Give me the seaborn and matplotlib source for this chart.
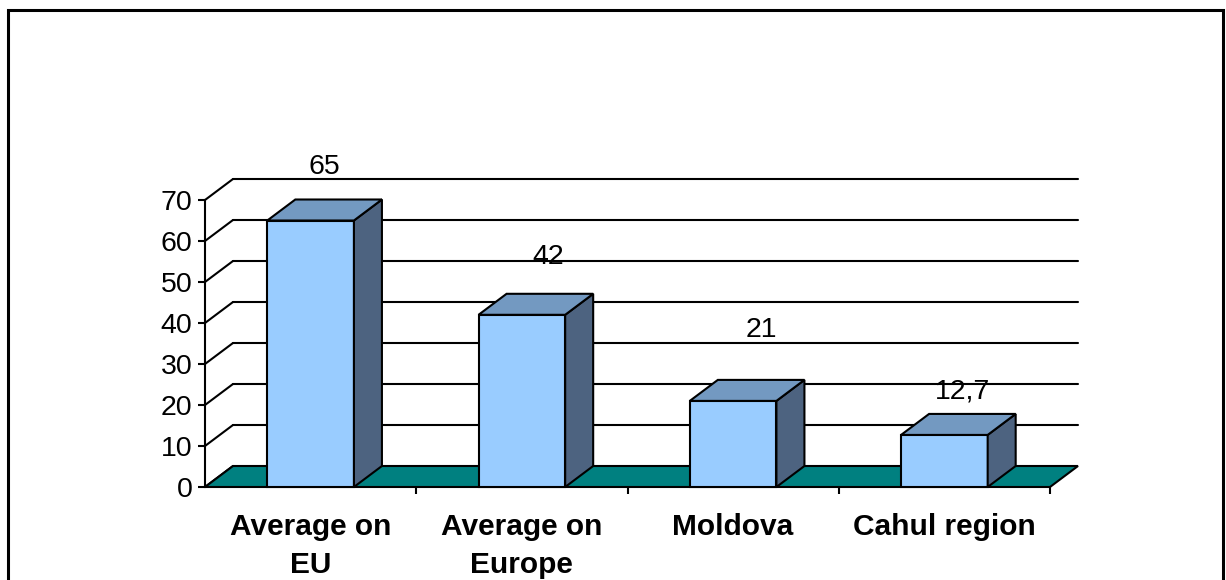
import matplotlib
matplotlib.use("Agg")
import matplotlib.pyplot as plt
from matplotlib.patches import Polygon, Rectangle
from matplotlib.lines import Line2D
import seaborn as sns
import pandas as pd

# ---- data ----
categories = ["Average on\nEU", "Average on\nEurope", "Moldova", "Cahul region"]
values = [65, 42, 21, 12.7]
value_labels = ["65", "42", "21", "12,7"]
y_ticks = [0, 10, 20, 30, 40, 50, 60, 70]

# ---- style ----
label_nudge_px = [(14, 54), (26, 58), (28, 71), (18, 43)]
FRONT = "#99CCFF"
TOP = "#7399C1"
SIDE = "#4D6380"
FLOOR = "#008080"
LW = 1.5

sns.set_theme(style="white")
plt.rcParams["font.family"] = ["Liberation Sans", "DejaVu Sans"]

W, H = 1226, 580
fig = plt.figure(figsize=(W / 100, H / 100), dpi=100)
fig.patch.set_facecolor("white")
ax_left, ax_bottom, ax_w, ax_h = 205, 93, 845, 287
ax = fig.add_axes([ax_left / W, ax_bottom / H, ax_w / W, ax_h / H])

df = pd.DataFrame({"cat": categories, "val": values})
sns.barplot(data=df, x="cat", y="val", color=FRONT, saturation=1, width=0.41,
            edgecolor="black", linewidth=LW, ax=ax, zorder=4)

ax.set_xlim(-0.5, 3.5)
ax.set_ylim(0, 70)
ax.set_xlabel("")
ax.set_ylabel("")
ax.patch.set_alpha(0)
ax.grid(False)

# depth offset in data units
px_x = ax_w / 4.0
px_y = ax_h / 70.0
DX = 28 / px_x
DY = 21 / px_y

# back wall gridlines and left wall diagonals
x0, x1 = -0.5, 3.5
for v in y_ticks:
    if v > 0:
        ax.add_line(Line2D([x0 + DX, x1 + DX], [v + DY, v + DY], color="black",
                           lw=LW, zorder=1, clip_on=False))
    ax.add_line(Line2D([x0, x0 + DX], [v, v + DY], color="black", lw=LW,
                       zorder=1, clip_on=False))

# floor
floor = Polygon([(x0, 0), (x1, 0), (x1 + DX, DY), (x0 + DX, DY)], closed=True,
                facecolor=FLOOR, edgecolor="black", lw=LW, zorder=2, clip_on=False)

bars = list(ax.patches)
ax.add_patch(floor)

# 3D tops / sides for bars
for p in bars:
    bx, bw, bh = p.get_x(), p.get_width(), p.get_height()
    p.set_zorder(4)
    p.set_clip_on(False)
    top = Polygon([(bx, bh), (bx + bw, bh), (bx + bw + DX, bh + DY), (bx + DX, bh + DY)],
                  closed=True, facecolor=TOP, edgecolor="black", lw=LW, zorder=4,
                  clip_on=False, joinstyle="miter")
    side = Polygon([(bx + bw, 0), (bx + bw + DX, DY), (bx + bw + DX, bh + DY), (bx + bw, bh)],
                   closed=True, facecolor=SIDE, edgecolor="black", lw=LW, zorder=4,
                   clip_on=False, joinstyle="miter")
    ax.add_patch(side)
    ax.add_patch(top)

# value labels
for p, lab, (nx, ny) in zip(bars, value_labels, label_nudge_px):
    cx = p.get_x() + p.get_width() / 2
    ax.annotate(lab, xy=(cx, p.get_height()), xytext=(nx * 0.72, ny * 0.72),
                textcoords="offset points", ha="center", va="center",
                fontsize=20.5, color="black", zorder=6, annotation_clip=False)

# spines and ticks
for s in ["top", "right", "bottom"]:
    ax.spines[s].set_visible(False)
ax.spines["left"].set_color("black")
ax.spines["left"].set_linewidth(LW)
ax.spines["left"].set_zorder(5)

ax.set_yticks(y_ticks)
ax.tick_params(axis="y", which="major", left=True, length=5, width=LW, pad=4,
               labelsize=20.5, color="black", labelcolor="black", direction="out")
ax.tick_params(axis="x", which="major", bottom=False, length=0, pad=19,
               labelsize=21.5, labelcolor="black")
ax.set_xticks([0.5, 1.5, 2.5, 3.5], minor=True)
ax.tick_params(axis="x", which="minor", bottom=True, length=5, width=LW,
               color="black", direction="out")
for t in ax.get_xticklabels():
    t.set_fontweight("bold")
    t.set_linespacing(1.42)

# outer frame
fig.add_artist(Rectangle((8 / W, -0.1), (1223 - 8) / W, (H - 10) / H + 0.1,
                         transform=fig.transFigure, fill=False, lw=2.2,
                         edgecolor="black", zorder=10))

fig.savefig("out.png", dpi=100)
